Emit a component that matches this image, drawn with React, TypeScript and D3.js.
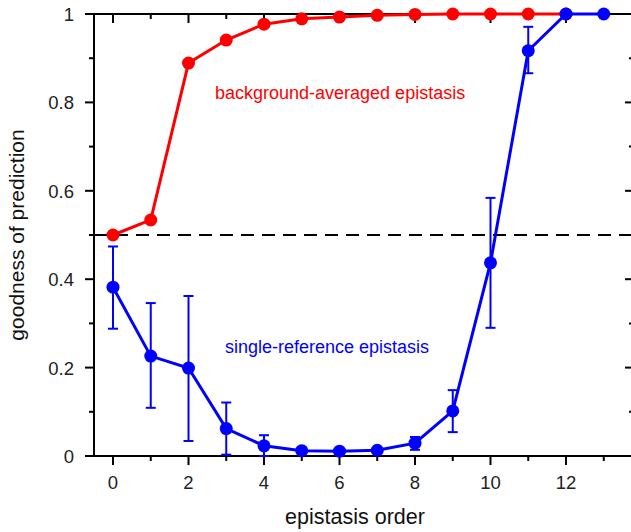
import React from "react";
import * as d3 from "d3";

// epistasis order on the x axis
const orders = [0, 1, 2, 3, 4, 5, 6, 7, 8, 9, 10, 11, 12, 13];

// background-averaged epistasis (red), orders 0..12
const bgOrders = [0, 1, 2, 3, 4, 5, 6, 7, 8, 9, 10, 11, 12];
const bgValues = [0.5, 0.534, 0.889, 0.941, 0.977, 0.989, 0.993, 0.997, 0.999, 1.0, 1.0, 1.0, 1.0];

// single-reference epistasis (blue), orders 0..13, with error bar bounds
const srValues = [0.382, 0.226, 0.199, 0.062, 0.023, 0.012, 0.011, 0.013, 0.029, 0.102, 0.437, 0.917, 1.0, 1.0];
const srUpper = [0.474, 0.346, 0.362, 0.121, 0.047, 0.012, 0.011, 0.013, 0.043, 0.149, 0.584, 0.971, 1.0, 1.0];
const srLower = [0.288, 0.109, 0.034, 0.003, 0.0, 0.012, 0.011, 0.013, 0.014, 0.054, 0.29, 0.866, 1.0, 1.0];

const xMajorTicks = [0, 2, 4, 6, 8, 10, 12];
const xMinorTicks = [1, 3, 5, 7, 9, 11, 13];
const yMajorTicks = [0, 0.2, 0.4, 0.6, 0.8, 1];
const yMinorTicks = [0.1, 0.3, 0.5, 0.7, 0.9];
const threshold = 0.5;

const W = 631;
const H = 532;
const left = 94;
const right = 634;
const top = 14;
const bottom = 456;

const x = d3.scaleLinear().domain([0, 12]).range([113, 566]);
const y = d3.scaleLinear().domain([0, 1]).range([bottom, top]);

const RED = "#ff0000";
const BLUE = "#0000ff";
const FONT = "Liberation Sans, Arial, sans-serif";

export default function App() {
  const line = d3
    .line<[number, number]>()
    .x((d) => x(d[0]))
    .y((d) => y(d[1]));

  const bgPts: [number, number][] = bgOrders.map((o, i) => [o, bgValues[i]]);
  const srPts: [number, number][] = orders.map((o, i) => [o, srValues[i]]);

  const majorLen = 9;
  const minorLen = 5;

  return (
    <svg
      width={W}
      height={H}
      style={{ position: "absolute", left: 0, top: 0, background: "#fff" }}
      fontFamily={FONT}
    >
      {/* frame */}
      <g stroke="#000" strokeWidth={2} fill="none">
        <line x1={left} x2={right} y1={top} y2={top} />
        <line x1={left} x2={right} y1={bottom} y2={bottom} />
        <line x1={left} x2={left} y1={top - 1} y2={bottom + 1} />
        <line x1={right} x2={right} y1={top - 1} y2={bottom + 1} />
      </g>

      {/* x ticks: outward on bottom, inward on top; y ticks: outward left, inward right */}
      <g stroke="#000" strokeWidth={2}>
        {xMajorTicks.map((t) => (
          <g key={"xM" + t}>
            <line x1={x(t)} x2={x(t)} y1={bottom} y2={bottom + majorLen} />
            <line x1={x(t)} x2={x(t)} y1={top} y2={top + majorLen} />
          </g>
        ))}
        {xMinorTicks.map((t) => (
          <g key={"xm" + t}>
            <line x1={x(t)} x2={x(t)} y1={bottom} y2={bottom + minorLen} />
            <line x1={x(t)} x2={x(t)} y1={top} y2={top + minorLen} />
          </g>
        ))}
        {yMajorTicks.map((t) => (
          <g key={"yM" + t}>
            <line x1={left - majorLen} x2={left} y1={y(t)} y2={y(t)} />
            <line x1={right - majorLen} x2={right} y1={y(t)} y2={y(t)} />
          </g>
        ))}
        {yMinorTicks.map((t) => (
          <g key={"ym" + t}>
            <line x1={left - minorLen} x2={left} y1={y(t)} y2={y(t)} />
            <line x1={right - minorLen} x2={right} y1={y(t)} y2={y(t)} />
          </g>
        ))}
      </g>

      {/* tick labels */}
      <g fontSize={18.5} fill="#222">
        {xMajorTicks.map((t) => (
          <text key={"xl" + t} x={x(t)} y={489} textAnchor="middle">
            {t}
          </text>
        ))}
        {yMajorTicks.map((t) => (
          <text key={"yl" + t} x={74} y={y(t) + 7} textAnchor="end">
            {t === 0 || t === 1 ? String(t) : t.toFixed(1)}
          </text>
        ))}
      </g>

      {/* axis titles */}
      <text x={355} y={524} textAnchor="middle" fontSize={21.5} fill="#111">
        epistasis order
      </text>
      <text
        transform={`translate(24, ${y(0.5)}) rotate(-90)`}
        textAnchor="middle"
        fontSize={21}
        fill="#111"
      >
        goodness of prediction
      </text>

      {/* 0.5 reference line */}
      <line
        x1={left}
        x2={right}
        y1={y(threshold)}
        y2={y(threshold)}
        stroke="#000"
        strokeWidth={2}
        strokeDasharray="13 8"
      />

      {/* background-averaged series */}
      <path d={line(bgPts) ?? ""} fill="none" stroke={RED} strokeWidth={3} />
      {bgPts.map((p, i) => (
        <circle key={"bg" + i} cx={x(p[0])} cy={y(p[1])} r={6.5} fill={RED} />
      ))}

      {/* single-reference series */}
      <g stroke={BLUE} strokeWidth={2}>
        {orders.map((o, i) =>
          srUpper[i] - srLower[i] > 0.005 ? (
            <g key={"eb" + i}>
              <line x1={x(o)} x2={x(o)} y1={y(srUpper[i])} y2={y(srLower[i])} />
              <line x1={x(o) - 5} x2={x(o) + 5} y1={y(srUpper[i])} y2={y(srUpper[i])} />
              <line x1={x(o) - 5} x2={x(o) + 5} y1={y(srLower[i])} y2={y(srLower[i])} />
            </g>
          ) : null
        )}
      </g>
      <path d={line(srPts) ?? ""} fill="none" stroke={BLUE} strokeWidth={3} />
      {srPts.map((p, i) => (
        <circle key={"sr" + i} cx={x(p[0])} cy={y(p[1])} r={6.5} fill={BLUE} />
      ))}

      {/* series annotations */}
      <text x={215} y={99} fontSize={18} fill={RED}>
        background-averaged epistasis
      </text>
      <text x={225} y={353} fontSize={18} fill={BLUE}>
        single-reference epistasis
      </text>
    </svg>
  );
}
